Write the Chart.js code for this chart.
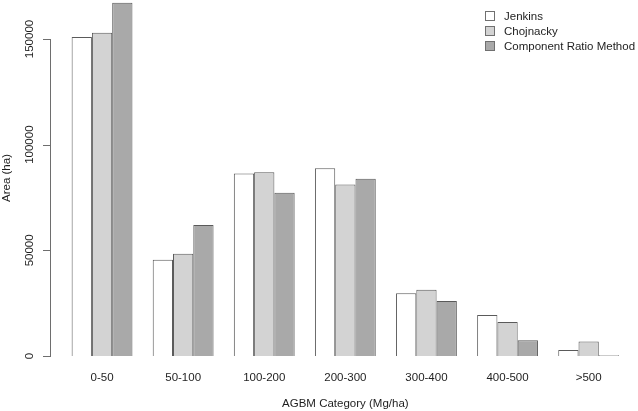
<!DOCTYPE html>
<html>
<head>
<meta charset="utf-8">
<script src="https://cdn.jsdelivr.net/npm/chart.js@4.4.1/dist/chart.umd.min.js"></script>
<style>
  html, body { margin: 0; padding: 0; background: #fff; }
  canvas { display: block; }
</style>
</head>
<body>
<canvas id="chart" width="638" height="411"></canvas>
<script>
// categories and values (Area, ha)
const categories = ['0-50', '50-100', '100-200', '200-300', '300-400', '400-500', '>500'];
const jenkins    = [151000, 45600, 86400, 88800, 29700, 19400, 2800];
const chojnacky  = [153000, 48400, 86900, 81100, 31400, 16100, 6900];
const crm        = [167100, 62000, 77300, 83900, 26000, 7400, 400];
const yTicks = [0, 50000, 100000, 150000];

const FONT = '"Liberation Sans", Arial, Helvetica, sans-serif';
const textColor = '#1e1e1e';
const edge = '#5a5a5a';

// R style left axis: line only spans the tick range, short ticks pointing left.
// drawn in beforeDraw (after the canvas is cleared, before scales/bars)
const rAxis = {
    id: 'rAxis',
    beforeDraw(chart) {
        const ctx = chart.ctx;
        const y = chart.scales.y;
        const yTop = Math.round(y.getPixelForValue(yTicks[yTicks.length - 1]));
        const yBot = Math.round(y.getPixelForValue(yTicks[0]));
        ctx.save();
        ctx.fillStyle = '#6e6e6e';
        ctx.fillRect(50, yTop, 1, yBot - yTop + 1);
        yTicks.forEach(v => {
            const py = Math.round(y.getPixelForValue(v));
            ctx.fillRect(43, py, 7, 1);
        });
        ctx.restore();
    }
};

// legend box in the top right corner, as in the R plot
const rLegend = {
    id: 'rLegend',
    afterDraw(chart) {
        const ctx = chart.ctx;
        ctx.save();
        ctx.font = '11.5px ' + FONT;
        ctx.textBaseline = 'middle';
        ctx.textAlign = 'left';
        chart.data.datasets.forEach((ds, i) => {
            const cy = 16 + i * 15;
            ctx.fillStyle = ds.backgroundColor;
            ctx.fillRect(485.5, cy - 4.5, 9, 9);
            ctx.strokeStyle = '#707070';
            ctx.lineWidth = 1;
            ctx.strokeRect(485.5, cy - 4.5, 9, 9);
            ctx.fillStyle = textColor;
            ctx.fillText(ds.label, 504, cy + 0.5);
        });
        ctx.restore();
    }
};

new Chart(document.getElementById('chart'), {
    type: 'bar',
    data: {
        labels: categories,
        datasets: [
            { label: 'Jenkins', data: jenkins, backgroundColor: '#ffffff' },
            { label: 'Chojnacky', data: chojnacky, backgroundColor: '#d3d3d3' },
            { label: 'Component Ratio Method', data: crm, backgroundColor: '#a9a9a9' }
        ]
    },
    options: {
        responsive: false,
        animation: false,
        devicePixelRatio: 1,
        layout: { padding: { left: 0, right: 8.8, top: 0, bottom: 0 } },
        datasets: {
            bar: {
                borderColor: edge,
                borderWidth: 1,
                categoryPercentage: 0.75,
                barPercentage: 1.0
            }
        },
        plugins: {
            legend: { display: false },
            tooltip: { enabled: false }
        },
        scales: {
            x: {
                grid: { display: false, drawTicks: false },
                border: { display: false },
                ticks: {
                    color: textColor,
                    font: { family: FONT, size: 11.5 },
                    padding: 15,
                    maxRotation: 0,
                    autoSkip: false
                },
                title: {
                    display: true,
                    text: 'AGBM Category (Mg/ha)',
                    color: textColor,
                    font: { family: FONT, size: 11.5 },
                    padding: { top: 0, bottom: 0 }
                },
                afterFit(scale) {
                    scale.height = 55;
                    scale.paddingLeft = 0;
                    scale.paddingRight = 0;
                }
            },
            y: {
                min: 0,
                max: 168450,
                grid: { display: false, drawTicks: false },
                border: { display: false },
                afterBuildTicks(scale) {
                    scale.ticks = yTicks.map(v => ({ value: v }));
                },
                ticks: {
                    color: textColor,
                    font: { family: FONT, size: 11.5 },
                    minRotation: 90,
                    maxRotation: 90,
                    crossAlign: 'center',
                    padding: 12,
                    callback: v => String(v)
                },
                title: {
                    display: true,
                    text: 'Area (ha)',
                    color: textColor,
                    font: { family: FONT, size: 11.5 },
                    padding: { top: 0, bottom: 0 }
                },
                afterFit(scale) {
                    scale.width = 61.5;
                    scale.paddingTop = 0;
                    scale.paddingBottom = 0;
                }
            }
        }
    },
    plugins: [rAxis, rLegend]
});
</script>
</body>
</html>
